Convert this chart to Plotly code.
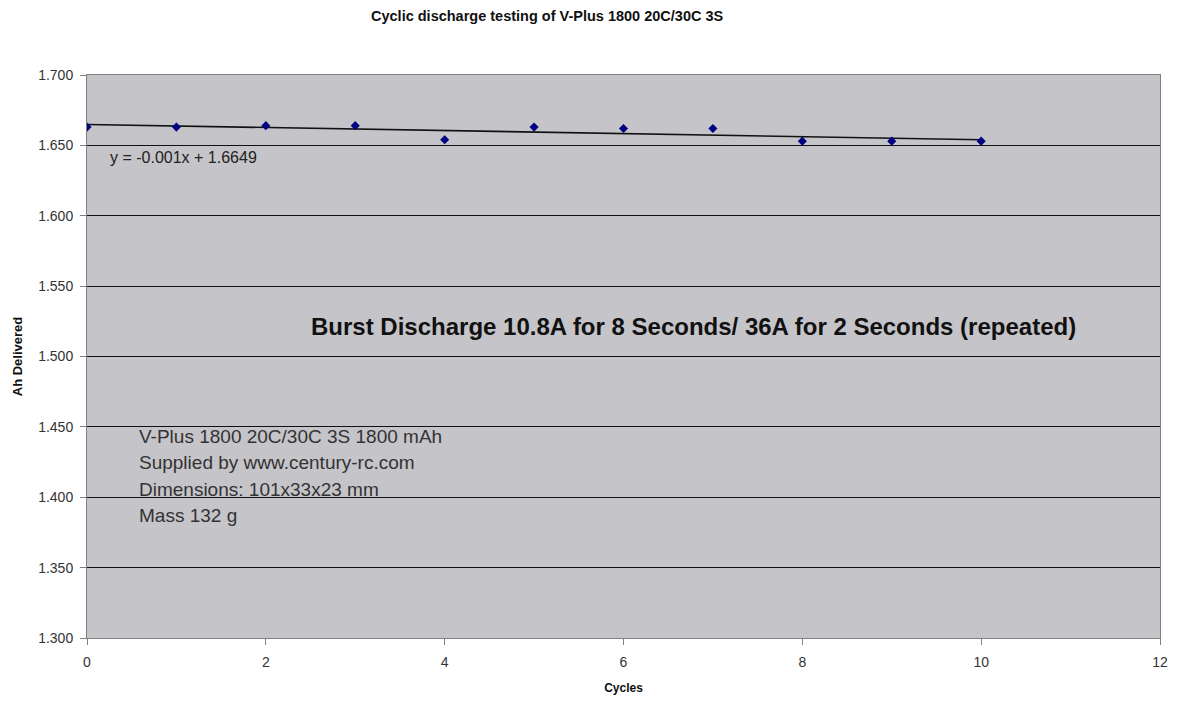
import numpy as np
import plotly.graph_objects as go

cycles = [0, 1, 2, 3, 4, 5, 6, 7, 8, 9, 10]
ah_delivered = [1.663, 1.663, 1.664, 1.664, 1.654, 1.663, 1.662, 1.662, 1.653, 1.653, 1.653]

slope, intercept = np.polyfit(cycles, ah_delivered, 1)
trend_x = [min(cycles), max(cycles)]
trend_y = [slope * x + intercept for x in trend_x]

W, H = 1167, 688

fig = go.Figure()
fig.add_trace(go.Scatter(x=trend_x, y=trend_y, mode="lines",
                         line=dict(color="#111111", width=1.6), showlegend=False, hoverinfo="skip"))
fig.add_trace(go.Scatter(x=cycles, y=ah_delivered, mode="markers",
                         marker=dict(symbol="diamond", size=7, color="#000080"), showlegend=False))

fig.update_layout(
    width=W, height=H,
    paper_bgcolor="white", plot_bgcolor="#C5C4C8",
    margin=dict(l=79, r=15, t=67, b=58),
    font=dict(family="Liberation Sans, Arial", color="#222222"),
)
fig.add_annotation(text="<b>Cyclic discharge testing of V-Plus 1800 20C/30C 3S</b>",
                   xref="paper", x=0.4295, xanchor="center",
                   yref="paper", y=1, yshift=59, yanchor="middle", showarrow=False,
                   font=dict(family="Liberation Sans, Arial", size=14.5, color="#111111"))
fig.update_xaxes(range=[0, 12], dtick=2, tick0=0, showgrid=False, zeroline=False,
                 showline=True, linecolor="#808080", linewidth=1, mirror=True, automargin=False,
                 ticks="outside", ticklen=6, tickcolor="#808080", ticklabelstandoff=5,
                 tickfont=dict(size=14, color="#333333"),
                 title=dict(text="<b>Cycles</b>", font=dict(size=12, color="#111111"), standoff=14))
fig.update_yaxes(range=[1.3, 1.7], dtick=0.05, tick0=1.3, tickformat=".3f",
                 showgrid=True, gridcolor="#111111", gridwidth=1, zeroline=False,
                 showline=True, linecolor="#808080", linewidth=1, mirror=True, automargin=False,
                 ticks="outside", ticklen=6, tickcolor="#808080", ticklabelstandoff=4,
                 tickfont=dict(size=14, color="#333333"),
                 title=dict(text="<b>Ah Delivered</b>", font=dict(size=13, color="#111111"), standoff=12))

fig.add_annotation(x=0.24, y=1.6417, xref="x", yref="y", xanchor="left", yanchor="middle",
                   text="y = -0.001x + 1.6649", showarrow=False,
                   font=dict(size=16, color="#222222"))
fig.add_annotation(x=2.48, y=1.521, xref="x", yref="y", xanchor="left", yanchor="middle",
                   text="<b>Burst Discharge 10.8A for 8 Seconds/ 36A for 2 Seconds (repeated)</b>",
                   showarrow=False, font=dict(size=24, color="#111111"))
info_lines = ["V-Plus 1800 20C/30C 3S 1800 mAh", "Supplied by www.century-rc.com",
              "Dimensions: 101x33x23 mm", "Mass 132 g"]
for i, line in enumerate(info_lines):
    fig.add_annotation(x=0.559, y=1.4435, xref="x", yref="y", xanchor="left", yanchor="middle",
                       yshift=-26.5 * i, text=line, align="left", showarrow=False,
                       font=dict(size=19, color="#333333"))

fig.write_html("out.html")
